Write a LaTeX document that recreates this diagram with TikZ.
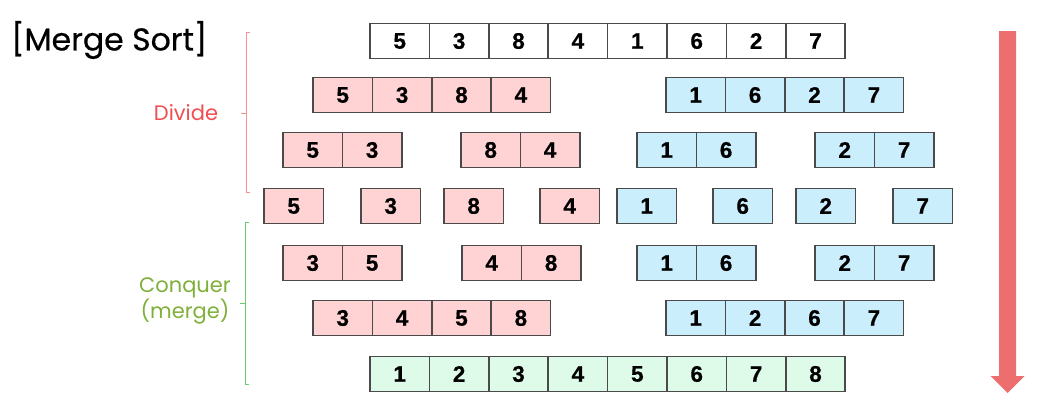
\documentclass[tikz,border=0pt]{standalone}
\usepackage{fontspec}
\newfontfamily\numfont{Liberation Sans Bold}[FakeBold=0.6]
\newfontfamily\titlefont{Poppins}
\newfontfamily\headfont{Poppins}[FakeBold=0.6]
\definecolor{cellborder}{HTML}{4A4A4A}
\definecolor{pinkc}{HTML}{FFD3D3}
\definecolor{bluec}{HTML}{CBEEFC}
\definecolor{greenc}{HTML}{DDFBE8}
\definecolor{arrowc}{HTML}{EC6E6E}
\definecolor{divc}{HTML}{F04E50}
\definecolor{divbr}{HTML}{F29494}
\definecolor{conqc}{HTML}{7FB03A}
\definecolor{conqbr}{HTML}{6CCB6C}
\newcommand\cellrow[5]{%
  \foreach \v [count=\i] in {#5} {%
    \node[cell, fill=#4] (#1-\i) at ({#2+(\i-0.5)*59.4}, #3) {\v};}}
\begin{document}
\begin{tikzpicture}[x=1pt,y=-1pt,
  cell/.style={draw=cellborder, line width=1.6pt, minimum width=59.4pt,
    minimum height=35pt, inner sep=0pt, font=\numfont\fontsize{22.5}{22.5}\selectfont},
  brace/.style={line width=1pt},
  lbl/.style={font=\titlefont\fontsize{21}{26}\selectfont, align=center}]
\useasboundingbox (0,0) rectangle (1045,408);
% title
\node[font=\headfont\fontsize{31.5}{31.5}\selectfont, anchor=west, inner sep=0pt] (title) at (11,40) {[Merge Sort]};
% rows
\cellrow{a}{370}{41}{white}{5,3,8,4,1,6,2,7}
\cellrow{b}{313}{95}{pinkc}{5,3,8,4}
\cellrow{c}{666}{95}{bluec}{1,6,2,7}
\cellrow{d}{283}{150}{pinkc}{5,3}
\cellrow{e}{461}{150}{pinkc}{8,4}
\cellrow{f}{637}{150}{bluec}{1,6}
\cellrow{g}{815}{150}{bluec}{2,7}
\cellrow{h}{264}{206}{pinkc}{5}
\cellrow{i}{361}{206}{pinkc}{3}
\cellrow{j}{444}{206}{pinkc}{8}
\cellrow{k}{540}{206}{pinkc}{4}
\cellrow{l}{617}{206}{bluec}{1}
\cellrow{m}{713}{206}{bluec}{6}
\cellrow{n}{796}{206}{bluec}{2}
\cellrow{o}{893}{206}{bluec}{7}
\cellrow{p}{283}{263}{pinkc}{3,5}
\cellrow{q}{462}{263}{pinkc}{4,8}
\cellrow{r}{637}{263}{bluec}{1,6}
\cellrow{s}{815}{263}{bluec}{2,7}
\cellrow{t}{313}{318}{pinkc}{3,4,5,8}
\cellrow{u}{666}{318}{bluec}{1,2,6,7}
\cellrow{v}{370}{374}{greenc}{1,2,3,4,5,6,7,8}
% brackets
\draw[brace, divbr] (250,32) -- (246,32) -- (246,192) -- (250,192);
\draw[brace, divbr] (246,113) -- (241,113);
\node[lbl, text=divc] (divide) at (186,113) {Divide};
\draw[brace, conqbr] (249,222) -- (245,222) -- (245,384) -- (249,384);
\draw[brace, conqbr] (245,303) -- (240,303);
\node[lbl, text=conqc] (conquer) at (185,301) {Conquer\\(merge)};
% arrow
\fill[arrowc] (999,31) -- (1016,31) -- (1016,376) -- (1024.5,376) -- (1007.5,393)
  -- (990.5,376) -- (999,376) -- cycle;
\end{tikzpicture}
\end{document}
